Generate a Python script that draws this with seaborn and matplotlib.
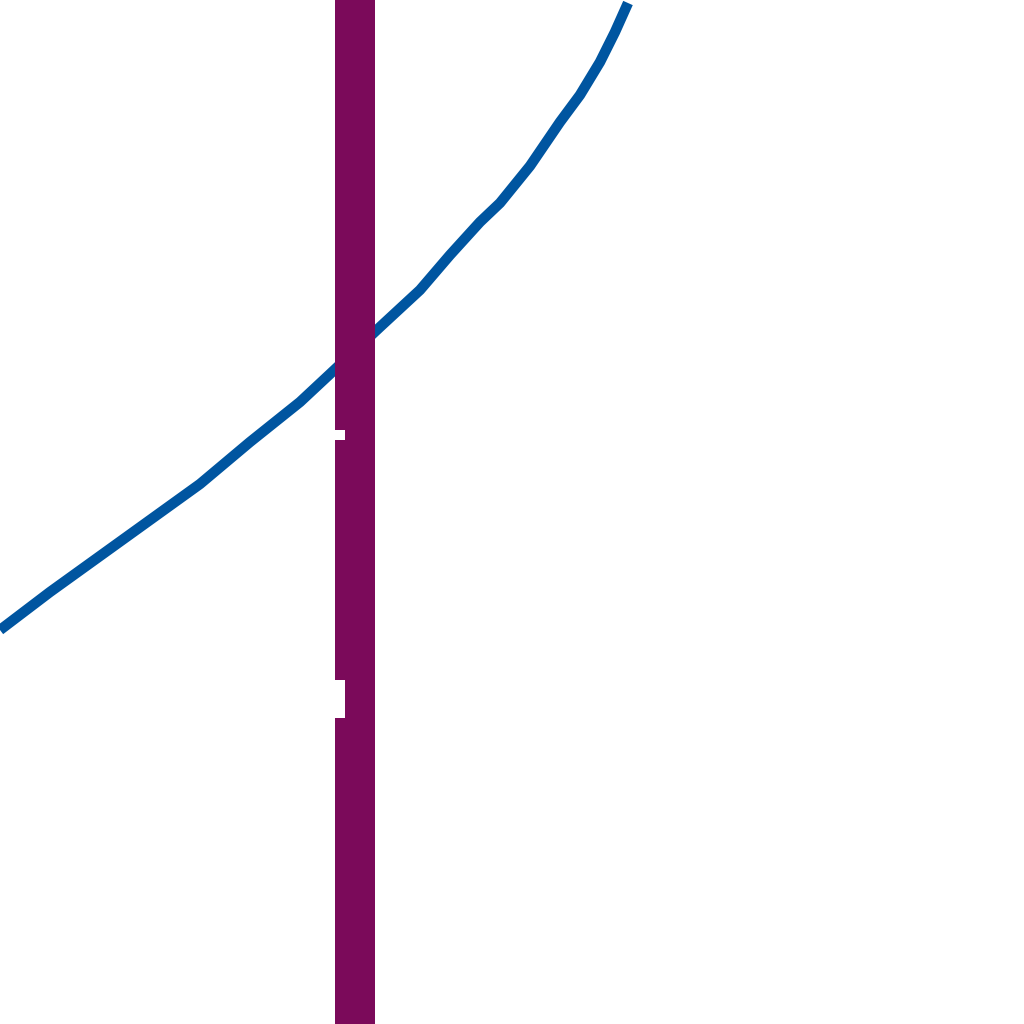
import pandas as pd
import numpy as np
import matplotlib
matplotlib.use('Agg')
import matplotlib.pyplot as plt
import seaborn as sns

# curve (pixel coordinates, y downward)
curve_x = [0, 50, 100, 150, 200, 250, 300, 330, 380, 420, 450, 480, 500,
           530, 560, 580, 600, 615, 628]
curve_y = [630, 592, 556, 520, 484, 442, 402, 374, 327, 290, 255, 222, 203,
           166, 122, 95, 62, 32, 3]

# vertical band
band_left = 335
band_right = 375

# small white gaps on the band's left edge (top, bottom)
gap_top = [430, 680]
gap_bottom = [440, 718]
gap_width = 10

line_color = '#0055a0'
band_color = '#7b0a5a'

df = pd.DataFrame({'x': curve_x, 'y': curve_y})

sns.set_style('white')
fig = plt.figure(figsize=(10.24, 10.24), dpi=100)
ax = fig.add_axes([0, 0, 1, 1])

sns.lineplot(data=df, x='x', y='y', sort=False, color=line_color,
             linewidth=7.5, ax=ax, zorder=1, solid_capstyle='butt')

ax.bar(x=band_left, height=1024, width=band_right - band_left, bottom=0,
       align='edge', color=band_color, linewidth=0, zorder=2)
for top, bottom in zip(gap_top, gap_bottom):
    ax.bar(x=band_left, height=bottom - top, width=gap_width, bottom=top,
           align='edge', color='white', linewidth=0, zorder=3)

ax.set_xlim(0, 1024)
ax.set_ylim(1024, 0)
ax.axis('off')

plt.savefig('out.png', dpi=100, facecolor='white')
plt.close()
